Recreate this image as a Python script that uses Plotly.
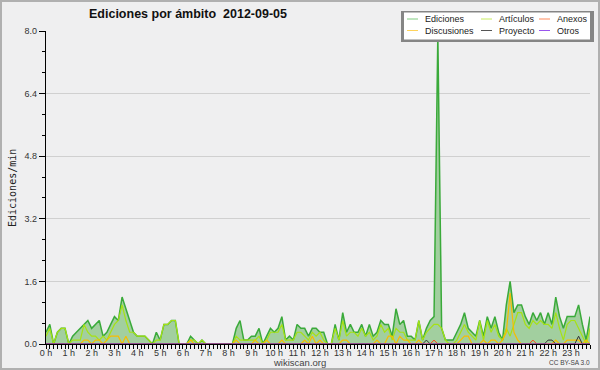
import plotly.graph_objects as go

# --- data: edits per minute, one value per 10-minute slot (144 slots) ---
minutes = list(range(0, 1440, 10))
hours = [m / 60 for m in minutes]
hour_ticks = list(range(24))
hour_labels = [f"{h} h" for h in hour_ticks]

ediciones = [
    0.3, 0.5, 0.0, 0.3, 0.4, 0.4, 0.0, 0.2, 0.3, 0.4, 0.5, 0.6,
    0.4, 0.5, 0.6, 0.2, 0.3, 0.5, 0.7, 0.6, 1.2, 0.9, 0.6, 0.3,
    0.2, 0.2, 0.2, 0.1, 0.0, 0.3, 0.1, 0.5, 0.5, 0.6, 0.6, 0.0,
    0.0, 0.0, 0.2, 0.1, 0.0, 0.1, 0.0, 0.0, 0.0, 0.0, 0.0, 0.0,
    0.0, 0.0, 0.4, 0.6, 0.1, 0.1, 0.2, 0.2, 0.4, 0.0, 0.2, 0.4,
    0.3, 0.4, 0.7, 0.1, 0.2, 0.1, 0.5, 0.4, 0.4, 0.2, 0.4, 0.4,
    0.3, 0.3, 0.0, 0.0, 0.5, 0.1, 0.8, 0.3, 0.5, 0.3, 0.3, 0.5,
    0.2, 0.5, 0.2, 0.3, 0.6, 0.5, 0.5, 0.2, 0.9, 0.5, 0.6, 0.2,
    0.2, 0.1, 0.6, 0.1, 0.4, 0.6, 0.7, 7.9, 0.4, 0.1, 0.1, 0.1,
    0.3, 0.5, 0.8, 0.4, 0.3, 0.2, 0.6, 0.2, 0.7, 0.4, 0.7, 0.3,
    0.1, 1.0, 1.6, 0.8, 1.0, 1.0, 0.7, 0.5, 0.8, 0.6, 0.8, 0.5,
    0.8, 0.5, 1.2, 0.7, 0.4, 0.7, 0.7, 0.7, 1.0, 0.5, 0.1, 0.7,
]
articulos = [
    0.2, 0.4, 0.0, 0.3, 0.4, 0.4, 0.0, 0.1, 0.1, 0.1, 0.5, 0.3,
    0.2, 0.2, 0.1, 0.2, 0.1, 0.3, 0.5, 0.6, 1.0, 0.6, 0.3, 0.3,
    0.2, 0.2, 0.2, 0.1, 0.0, 0.1, 0.1, 0.5, 0.5, 0.6, 0.6, 0.0,
    0.0, 0.0, 0.1, 0.1, 0.0, 0.1, 0.0, 0.0, 0.0, 0.0, 0.0, 0.0,
    0.0, 0.0, 0.2, 0.1, 0.1, 0.1, 0.1, 0.1, 0.2, 0.0, 0.1, 0.3,
    0.3, 0.3, 0.5, 0.1, 0.1, 0.1, 0.3, 0.3, 0.2, 0.1, 0.3, 0.2,
    0.3, 0.1, 0.0, 0.0, 0.4, 0.1, 0.6, 0.2, 0.3, 0.3, 0.2, 0.4,
    0.2, 0.3, 0.1, 0.2, 0.5, 0.3, 0.4, 0.1, 0.4, 0.3, 0.3, 0.1,
    0.1, 0.1, 0.6, 0.1, 0.3, 0.4, 0.5, 0.5, 0.4, 0.1, 0.0, 0.0,
    0.1, 0.3, 0.5, 0.3, 0.2, 0.1, 0.6, 0.1, 0.6, 0.3, 0.5, 0.2,
    0.1, 0.4, 0.2, 0.5, 0.8, 0.8, 0.5, 0.4, 0.6, 0.5, 0.6, 0.5,
    0.5, 0.4, 0.8, 0.4, 0.1, 0.5, 0.6, 0.6, 0.4, 0.2, 0.0, 0.4,
]
discusiones = [
    0.0, 0.0, 0.0, 0.0, 0.0, 0.0, 0.0, 0.0, 0.0, 0.0, 0.1, 0.1,
    0.0, 0.1, 0.1, 0.0, 0.1, 0.2, 0.2, 0.2, 0.0, 0.2, 0.0, 0.0,
    0.0, 0.0, 0.0, 0.0, 0.0, 0.0, 0.0, 0.0, 0.0, 0.0, 0.0, 0.0,
    0.0, 0.0, 0.1, 0.0, 0.0, 0.0, 0.0, 0.0, 0.0, 0.0, 0.0, 0.0,
    0.0, 0.0, 0.1, 0.0, 0.0, 0.0, 0.0, 0.1, 0.0, 0.0, 0.1, 0.0,
    0.0, 0.0, 0.1, 0.0, 0.0, 0.0, 0.0, 0.0, 0.1, 0.0, 0.2, 0.0,
    0.1, 0.0, 0.0, 0.0, 0.0, 0.0, 0.1, 0.1, 0.0, 0.0, 0.0, 0.0,
    0.0, 0.0, 0.0, 0.1, 0.0, 0.0, 0.2, 0.2, 0.0, 0.2, 0.1, 0.1,
    0.0, 0.0, 0.1, 0.0, 0.0, 0.0, 0.0, 0.0, 0.0, 0.0, 0.0, 0.0,
    0.0, 0.1, 0.2, 0.2, 0.0, 0.0, 0.0, 0.1, 0.0, 0.1, 0.1, 0.0,
    0.1, 0.3, 1.3, 0.3, 0.1, 0.0, 0.0, 0.0, 0.0, 0.0, 0.0, 0.0,
    0.0, 0.0, 0.1, 0.0, 0.0, 0.1, 0.1, 0.1, 0.1, 0.0, 0.1, 0.0,
]
anexos = [
    0.0, 0.0, 0.0, 0.0, 0.0, 0.0, 0.0, 0.0, 0.0, 0.0, 0.0, 0.0,
    0.0, 0.0, 0.0, 0.0, 0.0, 0.0, 0.0, 0.0, 0.0, 0.0, 0.0, 0.0,
    0.0, 0.0, 0.0, 0.0, 0.0, 0.0, 0.0, 0.0, 0.0, 0.0, 0.0, 0.0,
    0.0, 0.0, 0.0, 0.0, 0.0, 0.0, 0.0, 0.0, 0.0, 0.0, 0.0, 0.0,
    0.0, 0.0, 0.0, 0.0, 0.0, 0.0, 0.0, 0.0, 0.0, 0.0, 0.0, 0.0,
    0.0, 0.0, 0.0, 0.0, 0.0, 0.0, 0.0, 0.0, 0.0, 0.0, 0.0, 0.0,
    0.0, 0.0, 0.0, 0.0, 0.0, 0.0, 0.0, 0.0, 0.0, 0.0, 0.0, 0.0,
    0.0, 0.0, 0.0, 0.0, 0.0, 0.0, 0.0, 0.0, 0.0, 0.0, 0.0, 0.0,
    0.0, 0.0, 0.0, 0.0, 0.0, 0.0, 0.1, 0.0, 0.0, 0.0, 0.0, 0.0,
    0.0, 0.0, 0.0, 0.0, 0.0, 0.0, 0.0, 0.0, 0.0, 0.0, 0.0, 0.0,
    0.0, 0.0, 0.0, 0.0, 0.0, 0.0, 0.0, 0.0, 0.1, 0.0, 0.0, 0.0,
    0.0, 0.0, 0.0, 0.0, 0.0, 0.0, 0.0, 0.0, 0.0, 0.0, 0.0, 0.0,
]
proyecto = [
    0.0, 0.0, 0.0, 0.0, 0.0, 0.0, 0.0, 0.0, 0.0, 0.0, 0.0, 0.0,
    0.0, 0.0, 0.0, 0.0, 0.0, 0.0, 0.0, 0.0, 0.0, 0.0, 0.0, 0.0,
    0.0, 0.0, 0.0, 0.0, 0.0, 0.0, 0.0, 0.0, 0.0, 0.0, 0.0, 0.0,
    0.0, 0.0, 0.0, 0.0, 0.0, 0.0, 0.0, 0.0, 0.0, 0.0, 0.0, 0.0,
    0.0, 0.0, 0.0, 0.0, 0.0, 0.0, 0.0, 0.0, 0.0, 0.0, 0.0, 0.0,
    0.0, 0.0, 0.0, 0.0, 0.0, 0.0, 0.0, 0.0, 0.0, 0.0, 0.0, 0.0,
    0.0, 0.0, 0.0, 0.0, 0.0, 0.0, 0.0, 0.0, 0.0, 0.0, 0.0, 0.0,
    0.0, 0.0, 0.0, 0.0, 0.0, 0.0, 0.0, 0.0, 0.0, 0.0, 0.0, 0.0,
    0.0, 0.0, 0.0, 0.0, 0.1, 0.0, 0.0, 0.0, 0.0, 0.0, 0.0, 0.0,
    0.0, 0.0, 0.0, 0.0, 0.0, 0.0, 0.0, 0.0, 0.0, 0.0, 0.0, 0.0,
    0.0, 0.0, 0.0, 0.0, 0.0, 0.0, 0.0, 0.0, 0.0, 0.0, 0.0, 0.0,
    0.1, 0.1, 0.0, 0.0, 0.0, 0.0, 0.0, 0.0, 0.2, 0.0, 0.0, 0.0,
]
otros = [
    0.0, 0.0, 0.0, 0.0, 0.0, 0.0, 0.0, 0.0, 0.0, 0.0, 0.0, 0.0,
    0.0, 0.0, 0.0, 0.0, 0.0, 0.0, 0.0, 0.0, 0.0, 0.0, 0.0, 0.0,
    0.0, 0.0, 0.0, 0.0, 0.0, 0.0, 0.0, 0.0, 0.0, 0.0, 0.0, 0.0,
    0.0, 0.0, 0.0, 0.0, 0.0, 0.0, 0.0, 0.0, 0.0, 0.0, 0.0, 0.0,
    0.0, 0.0, 0.0, 0.0, 0.0, 0.0, 0.0, 0.0, 0.0, 0.0, 0.0, 0.0,
    0.0, 0.0, 0.0, 0.0, 0.0, 0.0, 0.0, 0.0, 0.0, 0.0, 0.0, 0.0,
    0.0, 0.0, 0.0, 0.0, 0.0, 0.0, 0.0, 0.0, 0.0, 0.0, 0.0, 0.0,
    0.0, 0.0, 0.0, 0.0, 0.0, 0.0, 0.0, 0.0, 0.0, 0.0, 0.0, 0.0,
    0.0, 0.0, 0.0, 0.0, 0.0, 0.0, 0.0, 0.0, 0.0, 0.0, 0.0, 0.0,
    0.0, 0.0, 0.0, 0.0, 0.0, 0.0, 0.0, 0.0, 0.0, 0.0, 0.0, 0.0,
    0.0, 0.0, 0.0, 0.0, 0.0, 0.0, 0.0, 0.0, 0.0, 0.0, 0.0, 0.0,
    0.0, 0.0, 0.0, 0.0, 0.0, 0.0, 0.0, 0.0, 0.0, 0.0, 0.0, 0.0,
]
y_ticks = [0.0, 1.6, 3.2, 4.8, 6.4, 8.0]

# --- layout geometry (pixels) ---
W, H = 600, 370
ML, MR, MT, MB = 46, 10, 31, 26
PW, PH = W - ML - MR, H - MT - MB


def px(x):
    return (x - ML) / PW


def py(y):
    return (H - MB - y) / PH


FONT = "Liberation Sans, Arial, sans-serif"

fig = go.Figure()
fig.add_trace(go.Scatter(x=hours, y=ediciones, mode="lines", fill="tozeroy",
                         fillcolor="#a2cf9f", line=dict(color="#3aaa3a", width=1.5),
                         name="Ediciones", showlegend=False, hoverinfo="skip"))
fig.add_trace(go.Scatter(x=hours, y=articulos, mode="lines",
                         line=dict(color="#a6e214", width=1.2),
                         name="Artículos", showlegend=False, hoverinfo="skip"))
fig.add_trace(go.Scatter(x=hours, y=discusiones, mode="lines",
                         line=dict(color="#f7bd00", width=1.2),
                         name="Discusiones", showlegend=False, hoverinfo="skip"))
fig.add_trace(go.Scatter(x=hours, y=anexos, mode="lines",
                         line=dict(color="#ff4411", width=1),
                         name="Anexos", showlegend=False, hoverinfo="skip"))
fig.add_trace(go.Scatter(x=hours, y=proyecto, mode="lines",
                         line=dict(color="#333333", width=1),
                         name="Proyecto", showlegend=False, hoverinfo="skip"))
fig.add_trace(go.Scatter(x=hours, y=otros, mode="lines",
                         line=dict(color="#9944ee", width=1),
                         name="Otros", showlegend=False, hoverinfo="skip"))

fig.update_layout(
    width=W, height=H,
    margin=dict(l=ML, r=MR, t=MT, b=MB),
    paper_bgcolor="#efeff0", plot_bgcolor="#efeff0",
    font=dict(family=FONT, size=9, color="#333"),
    hovermode=False,
    xaxis=dict(range=[0, hours[-1]], tickvals=hour_ticks, ticktext=hour_labels,
               ticks="outside", ticklen=4, tickcolor="black", tickwidth=1,
               minor=dict(dtick=1 / 6, ticks="outside", ticklen=4, tickcolor="black", showgrid=False),
               showline=True, linecolor="black", linewidth=1.2, showgrid=False, zeroline=False,
               ticklabelstandoff=-4,
               tickfont=dict(size=9, color="#333"), fixedrange=True),
    yaxis=dict(range=[0, 8], tickvals=y_ticks, tickformat=".1f",
               ticks="outside", ticklen=6, tickcolor="black", tickwidth=1,
               minor=dict(dtick=1.6 / 3, ticks="outside", ticklen=3, tickcolor="black", showgrid=False),
               showline=True, linecolor="black", linewidth=1.2,
               showgrid=True, gridcolor="#d0d0d0", gridwidth=1, zeroline=False,
               tickfont=dict(size=9, color="#333"), fixedrange=True),
)

shapes = []
annotations = []

# outer frame
shapes.append(dict(type="rect", xref="paper", yref="paper", x0=px(1), x1=px(599), y0=py(369), y1=py(1),
                   line=dict(color="#b0b0b0", width=2), fillcolor="rgba(0,0,0,0)", layer="above"))

# title and captions
annotations.append(dict(text="<b>Ediciones por ámbito  2012-09-05</b>", xref="paper", yref="paper",
                        x=px(188), y=py(14), xanchor="center", yanchor="middle", showarrow=False,
                        font=dict(family=FONT, size=12.5, color="#111")))
annotations.append(dict(text="Ediciones/min", xref="paper", yref="paper", x=px(12), y=py(188),
                        textangle=-90, xanchor="center", yanchor="middle", showarrow=False,
                        font=dict(family="DejaVu Sans Mono, monospace", size=10, color="#222")))
annotations.append(dict(text="wikiscan.org", xref="paper", yref="paper", x=px(299), y=py(362),
                        xanchor="center", yanchor="middle", showarrow=False,
                        font=dict(family=FONT, size=9.5, color="#444")))
annotations.append(dict(text="CC BY-SA 3.0", xref="paper", yref="paper", x=px(569), y=py(362.5),
                        xanchor="center", yanchor="middle", showarrow=False,
                        font=dict(family=FONT, size=6.5, color="#444")))

# legend box
shapes.append(dict(type="rect", xref="paper", yref="paper", x0=px(401), x1=px(594), y0=py(42), y1=py(11),
                   line=dict(width=0), fillcolor="#858585", layer="above"))
shapes.append(dict(type="rect", xref="paper", yref="paper", x0=px(404), x1=px(590), y0=py(39.5), y1=py(12.5),
                   line=dict(width=0), fillcolor="white", layer="above"))
legend_items = [
    ("Ediciones", "#80cc80", 407, 19),
    ("Artículos", "#c8ec60", 481, 19),
    ("Anexos", "#ff8a5c", 539, 19),
    ("Discusiones", "#ffd35c", 407, 30.5),
    ("Proyecto", "#555555", 481, 30.5),
    ("Otros", "#9955ee", 539, 30.5),
]
for name, color, lx, ly in legend_items:
    shapes.append(dict(type="line", xref="paper", yref="paper", x0=px(lx), x1=px(lx + 11),
                       y0=py(ly), y1=py(ly), line=dict(color=color, width=1), layer="above"))
    annotations.append(dict(text=name, xref="paper", yref="paper", x=px(lx + 17), y=py(ly),
                            xanchor="left", yanchor="middle", showarrow=False, borderpad=0,
                            font=dict(family=FONT, size=9, color="#222")))

fig.update_layout(shapes=shapes, annotations=annotations)
fig.write_html("out.html", config={"displayModeBar": False, "staticPlot": True},
               post_script="document.body.style.margin='0';document.body.style.padding='0';"
                           "document.documentElement.style.overflow='hidden';")
